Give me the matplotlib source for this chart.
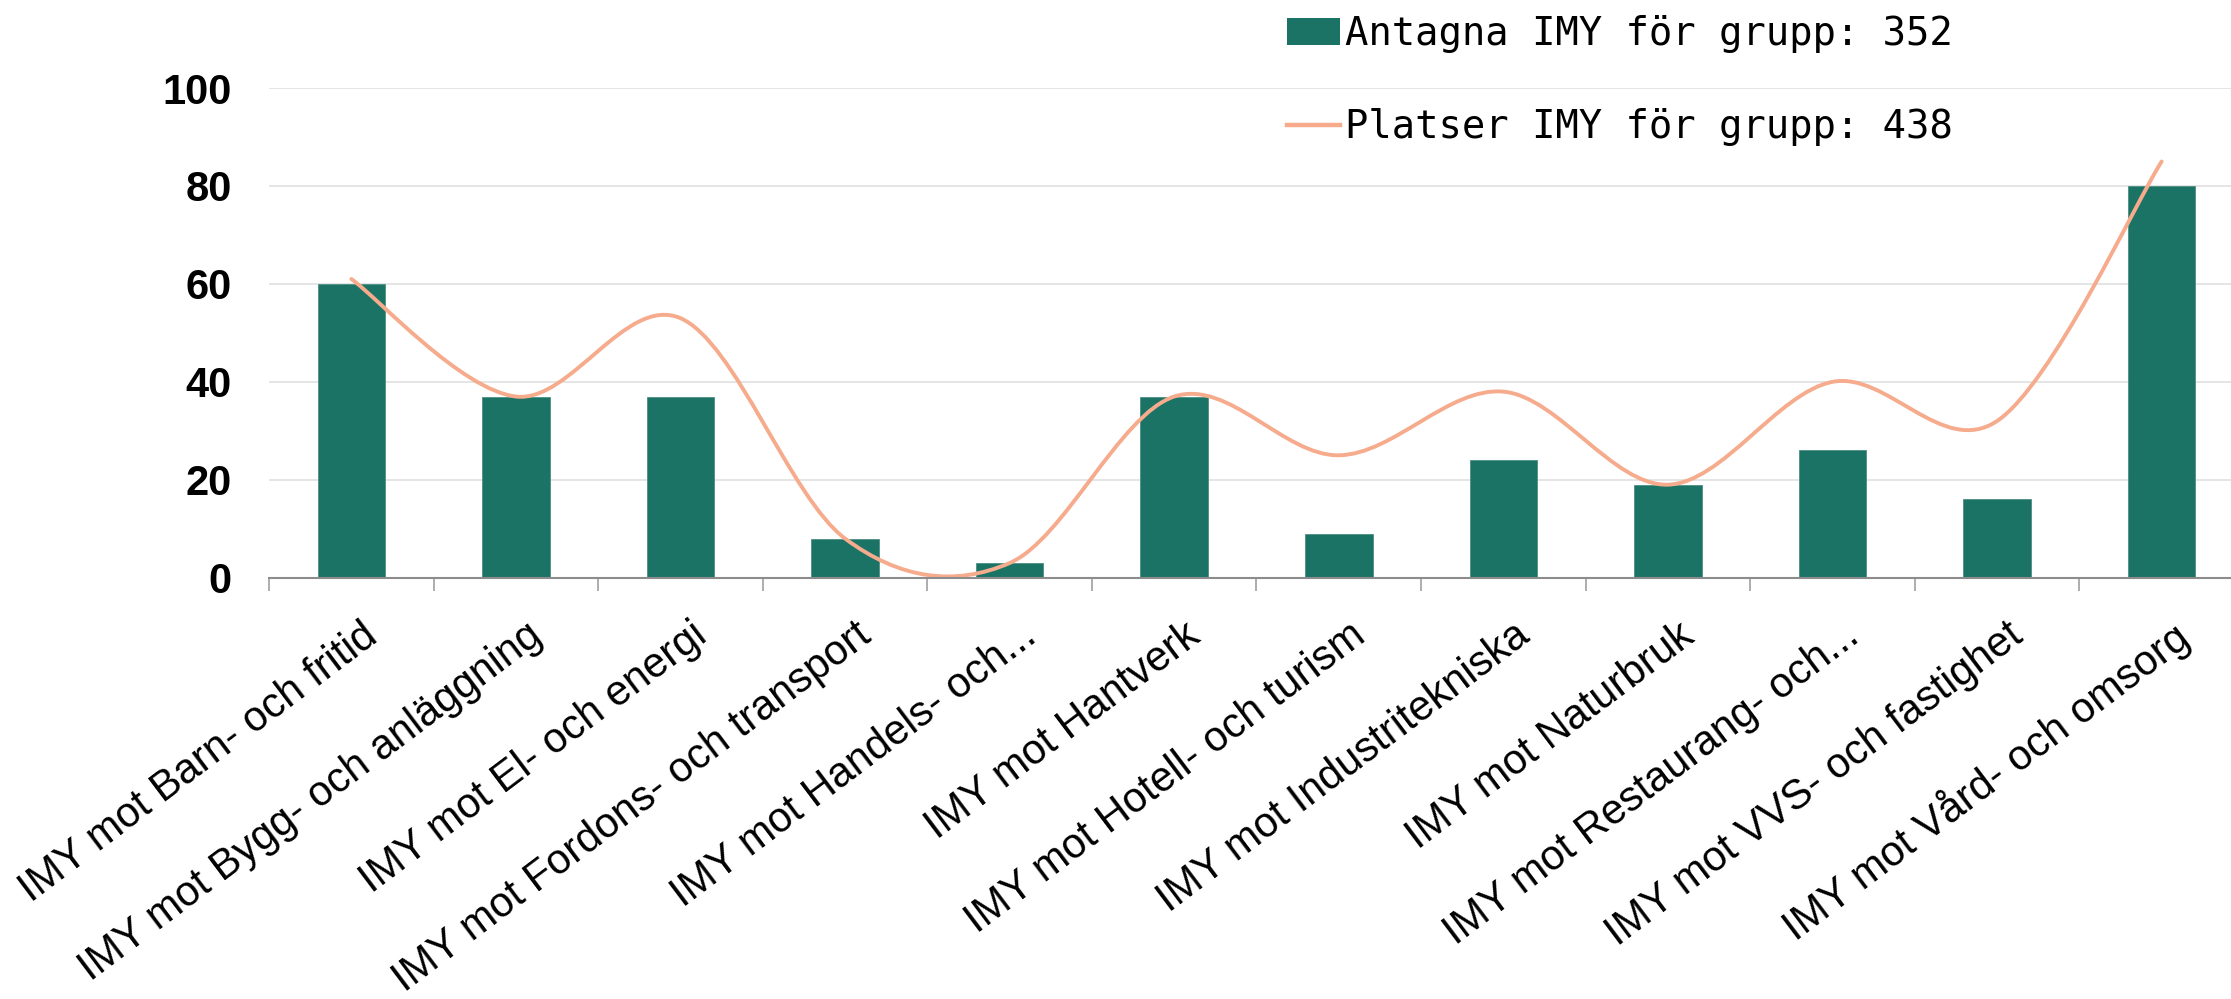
import matplotlib
matplotlib.use('Agg')
import matplotlib.pyplot as plt
import matplotlib.transforms as mtransforms
from matplotlib.path import Path
from matplotlib.patches import PathPatch, Patch
from matplotlib.lines import Line2D

categories = [
    'IMY mot Barn- och fritid',
    'IMY mot Bygg- och anläggning',
    'IMY mot El- och energi',
    'IMY mot Fordons- och transport',
    'IMY mot Handels- och...',
    'IMY mot Hantverk',
    'IMY mot Hotell- och turism',
    'IMY mot Industritekniska',
    'IMY mot Naturbruk',
    'IMY mot Restaurang- och...',
    'IMY mot VVS- och fastighet',
    'IMY mot Vård- och omsorg',
]
antagna = [60, 37, 37, 8, 3, 37, 9, 24, 19, 26, 16, 80]
platser = [61, 37, 53, 8, 3, 37, 25, 38, 19, 40, 32, 85]
label_antagna = 'Antagna IMY för grupp: 352'
label_platser = 'Platser IMY för grupp: 438'
yticks = [0, 20, 40, 60, 80, 100]

BAR = '#1b7366'
LINE = '#f5ab8c'


def smooth_path(xs, ys):
    # catmull-rom as cubic bezier, like the spreadsheet "smoothed line"
    pts = list(zip(xs, ys))
    verts = [pts[0]]
    codes = [Path.MOVETO]
    n = len(pts)
    for i in range(n - 1):
        p0 = pts[max(i - 1, 0)]
        p1 = pts[i]
        p2 = pts[i + 1]
        p3 = pts[min(i + 2, n - 1)]
        c1 = (p1[0] + (p2[0] - p0[0]) / 6, p1[1] + (p2[1] - p0[1]) / 6)
        c2 = (p2[0] - (p3[0] - p1[0]) / 6, p2[1] - (p3[1] - p1[1]) / 6)
        verts += [c1, c2, p2]
        codes += [Path.CURVE4] * 3
    return Path(verts, codes)


fig = plt.figure(figsize=(22.31, 9.99), dpi=100)
ax = fig.add_axes([0.1206, 0.4217, 0.8852, 0.4902])

x = list(range(len(categories)))
ax.bar(x, antagna, width=0.41, color=BAR, edgecolor='#4d8f84', linewidth=0.6, zorder=2)
ax.add_patch(PathPatch(smooth_path(x, platser), facecolor='none', edgecolor=LINE,
                       lw=2.8, capstyle='round', zorder=3))

ax.set_xlim(-0.5, len(categories) - 0.5)
ax.set_ylim(0, 100)
ax.set_yticks(yticks)
ax.set_yticklabels([str(v) for v in yticks], fontsize=30, fontweight='bold',
                   family='Liberation Sans')
ax.tick_params(axis='y', length=0, pad=27)
ax.grid(axis='y', color='#e0e0e0', lw=1.2, zorder=0)

for s in ['top', 'right', 'left']:
    ax.spines[s].set_visible(False)
ax.spines['bottom'].set_color('#8c8c8c')
ax.spines['bottom'].set_linewidth(1.5)
ax.spines['bottom'].set_zorder(4)

ax.set_xticks([i - 0.5 for i in range(len(categories) + 1)])
ax.set_xticklabels([])
ax.tick_params(axis='x', length=9, width=1.2, color='#a0a0a0', direction='out')

offset = mtransforms.ScaledTranslation(7 / 72, -27 / 72, fig.dpi_scale_trans)
trans = mtransforms.blended_transform_factory(ax.transData, ax.transAxes) + offset
for i, c in enumerate(categories):
    ax.text(i, 0, c, transform=trans, rotation=37, rotation_mode='anchor',
            ha='right', va='top', fontsize=30, family='Liberation Sans')

handles = [Patch(facecolor=BAR, edgecolor='none'),
           Line2D([0], [0], color=LINE, lw=3.2)]
fig.legend(handles, [label_antagna, label_platser], loc='upper left',
           bbox_to_anchor=(0.5769, 0.985), frameon=False, borderpad=0,
           borderaxespad=0, handlelength=1.35, handletextpad=0.13,
           labelspacing=1.42, prop={'family': 'DejaVu Sans Mono', 'size': 28})

plt.savefig('out.png', dpi=100)
